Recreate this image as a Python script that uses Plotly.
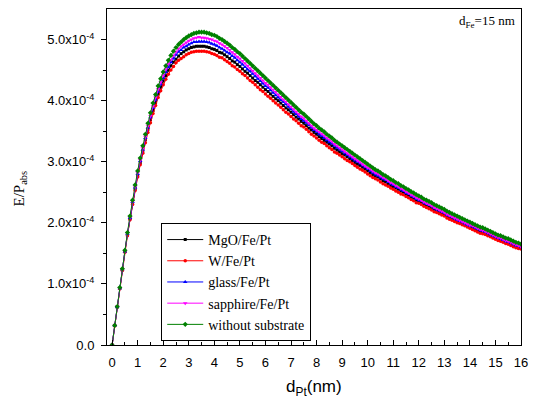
import numpy as np
import plotly.graph_objects as go

# thickness of Pt layer (nm)
d_pt = [round(0.1 * i, 1) for i in range(161)]

# E/Pabs values in units of 1e-4
without_substrate = [
0.00,0.32,0.63,0.94,1.25,1.55,1.84,2.11,2.37,2.62,
2.85,3.06,3.26,3.45,3.63,3.80,3.96,4.10,4.24,4.36,
4.47,4.57,4.66,4.74,4.81,4.87,4.92,4.96,5.00,5.03,
5.06,5.08,5.10,5.11,5.12,5.12,5.12,5.11,5.10,5.08,
5.07,5.05,5.02,5.00,4.97,4.94,4.91,4.87,4.84,4.80,
4.77,4.73,4.69,4.65,4.61,4.57,4.53,4.49,4.45,4.41,
4.37,4.33,4.29,4.25,4.21,4.17,4.13,4.09,4.05,4.01,
3.97,3.93,3.89,3.85,3.81,3.78,3.74,3.70,3.66,3.62,
3.59,3.55,3.52,3.49,3.45,3.42,3.39,3.35,3.32,3.29,
3.26,3.23,3.20,3.17,3.14,3.11,3.08,3.05,3.02,2.99,
2.96,2.93,2.90,2.87,2.85,2.82,2.79,2.77,2.74,2.71,
2.69,2.66,2.64,2.61,2.59,2.56,2.54,2.51,2.49,2.46,
2.44,2.42,2.39,2.37,2.35,2.33,2.30,2.28,2.26,2.24,
2.22,2.19,2.17,2.15,2.13,2.11,2.09,2.07,2.05,2.03,
2.01,1.99,1.97,1.95,1.93,1.92,1.90,1.88,1.86,1.84,
1.82,1.80,1.79,1.77,1.75,1.74,1.72,1.70,1.68,1.67,
1.65]

sapphire = [
0.00,0.32,0.63,0.93,1.24,1.54,1.83,2.09,2.35,2.59,
2.82,3.03,3.22,3.41,3.59,3.75,3.91,4.05,4.19,4.30,
4.41,4.51,4.60,4.67,4.74,4.80,4.85,4.89,4.92,4.95,
4.98,5.00,5.02,5.03,5.04,5.03,5.03,5.02,5.01,5.00,
4.98,4.97,4.94,4.92,4.89,4.86,4.83,4.79,4.76,4.72,
4.69,4.65,4.61,4.57,4.53,4.49,4.45,4.41,4.37,4.33,
4.29,4.26,4.22,4.18,4.14,4.10,4.06,4.02,3.98,3.94,
3.90,3.86,3.82,3.78,3.74,3.71,3.67,3.63,3.59,3.55,
3.52,3.49,3.46,3.43,3.39,3.36,3.33,3.29,3.26,3.23,
3.20,3.17,3.14,3.11,3.08,3.05,3.02,2.99,2.96,2.93,
2.90,2.88,2.85,2.82,2.80,2.77,2.74,2.72,2.69,2.66,
2.64,2.61,2.59,2.56,2.54,2.51,2.49,2.46,2.44,2.41,
2.39,2.37,2.34,2.32,2.30,2.28,2.25,2.23,2.21,2.19,
2.17,2.14,2.12,2.10,2.08,2.06,2.04,2.02,2.00,1.98,
1.96,1.95,1.93,1.91,1.89,1.88,1.86,1.84,1.82,1.80,
1.78,1.76,1.75,1.73,1.71,1.70,1.68,1.66,1.64,1.63,
1.61]

glass = [
0.00,0.32,0.62,0.93,1.24,1.53,1.82,2.08,2.34,2.58,
2.80,3.01,3.20,3.39,3.56,3.73,3.88,4.02,4.15,4.27,
4.37,4.47,4.55,4.63,4.69,4.75,4.80,4.83,4.87,4.89,
4.92,4.94,4.96,4.96,4.97,4.97,4.97,4.96,4.95,4.93,
4.92,4.90,4.87,4.85,4.82,4.79,4.77,4.73,4.70,4.66,
4.63,4.59,4.55,4.51,4.48,4.44,4.40,4.36,4.32,4.28,
4.24,4.21,4.17,4.13,4.09,4.05,4.01,3.98,3.94,3.90,
3.86,3.82,3.78,3.74,3.70,3.67,3.64,3.60,3.56,3.52,
3.49,3.45,3.42,3.39,3.35,3.32,3.30,3.26,3.23,3.20,
3.17,3.14,3.11,3.08,3.05,3.02,3.00,2.97,2.94,2.91,
2.88,2.85,2.82,2.79,2.77,2.74,2.72,2.70,2.67,2.64,
2.62,2.59,2.57,2.54,2.52,2.49,2.47,2.44,2.42,2.39,
2.37,2.36,2.33,2.31,2.29,2.27,2.24,2.22,2.20,2.18,
2.16,2.13,2.11,2.09,2.07,2.05,2.03,2.01,1.99,1.97,
1.95,1.94,1.92,1.90,1.88,1.87,1.85,1.83,1.81,1.79,
1.77,1.75,1.74,1.72,1.70,1.69,1.67,1.65,1.63,1.62,
1.60]

mgo = [
0.00,0.32,0.62,0.93,1.23,1.53,1.81,2.07,2.32,2.56,
2.78,2.98,3.17,3.36,3.53,3.69,3.84,3.97,4.11,4.22,
4.32,4.41,4.50,4.57,4.63,4.68,4.73,4.77,4.80,4.83,
4.85,4.87,4.88,4.89,4.89,4.89,4.89,4.88,4.87,4.85,
4.84,4.82,4.79,4.78,4.75,4.72,4.69,4.65,4.63,4.59,
4.56,4.52,4.48,4.45,4.41,4.37,4.33,4.30,4.26,4.22,
4.18,4.15,4.11,4.07,4.03,4.00,3.96,3.92,3.88,3.85,
3.81,3.77,3.73,3.70,3.66,3.63,3.59,3.55,3.52,3.48,
3.45,3.41,3.38,3.35,3.32,3.29,3.26,3.22,3.19,3.16,
3.13,3.11,3.08,3.05,3.02,2.99,2.96,2.94,2.91,2.88,
2.85,2.82,2.79,2.76,2.75,2.72,2.69,2.67,2.64,2.61,
2.59,2.57,2.55,2.52,2.50,2.47,2.45,2.42,2.40,2.37,
2.35,2.34,2.31,2.29,2.27,2.25,2.22,2.20,2.18,2.16,
2.14,2.12,2.10,2.08,2.06,2.04,2.02,2.00,1.98,1.96,
1.94,1.92,1.90,1.88,1.86,1.85,1.83,1.81,1.79,1.77,
1.75,1.74,1.73,1.71,1.69,1.68,1.66,1.64,1.62,1.61,
1.59]

w = [
0.00,0.31,0.62,0.92,1.22,1.52,1.79,2.05,2.30,2.53,
2.75,2.95,3.14,3.31,3.48,3.64,3.79,3.92,4.05,4.16,
4.26,4.35,4.43,4.50,4.56,4.62,4.66,4.69,4.72,4.75,
4.77,4.79,4.80,4.81,4.81,4.81,4.81,4.80,4.79,4.77,
4.76,4.74,4.71,4.70,4.67,4.64,4.61,4.57,4.55,4.51,
4.48,4.44,4.41,4.37,4.33,4.30,4.26,4.22,4.18,4.15,
4.11,4.07,4.04,4.00,3.96,3.93,3.89,3.85,3.81,3.78,
3.74,3.70,3.67,3.63,3.59,3.57,3.53,3.49,3.45,3.42,
3.39,3.35,3.32,3.30,3.26,3.23,3.20,3.16,3.14,3.11,
3.08,3.05,3.02,3.00,2.97,2.94,2.91,2.88,2.86,2.83,
2.80,2.77,2.74,2.72,2.70,2.67,2.64,2.62,2.60,2.57,
2.55,2.52,2.50,2.47,2.46,2.43,2.41,2.38,2.36,2.33,
2.32,2.30,2.27,2.25,2.23,2.21,2.18,2.17,2.15,2.13,
2.11,2.08,2.06,2.04,2.02,2.00,1.99,1.97,1.95,1.93,
1.91,1.89,1.87,1.85,1.83,1.82,1.81,1.79,1.77,1.75,
1.73,1.71,1.70,1.68,1.66,1.65,1.63,1.61,1.59,1.58,
1.57]

series_names = ["MgO/Fe/Pt", "W/Fe/Pt", "glass/Fe/Pt", "sapphire/Fe/Pt", "without substrate"]
series_values = [mgo, w, glass, sapphire, without_substrate]
series_colors = ["#000000", "#FF0000", "#0000FF", "#FF00FF", "#008000"]
series_symbols = ["square", "circle", "triangle-up", "triangle-down", "diamond"]
series_sizes = [3, 3.5, 4, 4, 4]

y_tick_vals = [0, 1e-4, 2e-4, 3e-4, 4e-4, 5e-4]
y_tick_text = ["0.0", "1.0x10<sup>-4</sup>", "2.0x10<sup>-4</sup>", "3.0x10<sup>-4</sup>",
               "4.0x10<sup>-4</sup>", "5.0x10<sup>-4</sup>"]
x_tick_vals = list(range(0, 17))

fig = go.Figure()
for name, vals, col, sym, sz in zip(series_names, series_values, series_colors, series_symbols, series_sizes):
    fig.add_trace(go.Scatter(
        x=d_pt, y=np.array(vals) * 1e-4, name=name, mode="lines+markers",
        line=dict(color=col, width=1),
        marker=dict(color=col, symbol=sym, size=sz, line=dict(width=0)),
    ))

fig.update_layout(
    width=536, height=401,
    margin=dict(l=107, r=10, t=8, b=56),
    paper_bgcolor="white", plot_bgcolor="white",
    font=dict(family="Liberation Sans, Arial, sans-serif", size=12, color="black"),
    showlegend=True,
    legend=dict(
        x=0.131, y=0.012, xanchor="left", yanchor="bottom",
        bgcolor="white", bordercolor="black", borderwidth=1,
        font=dict(family="Liberation Serif, Times New Roman, serif", size=14, color="black"),
        tracegroupgap=0, itemwidth=36,
    ),
    annotations=[
        dict(text="E/P<sub>abs</sub>", xref="paper", yref="paper", x=-0.21, y=0.466,
             xanchor="center", yanchor="middle", textangle=-90, showarrow=False,
             font=dict(family="Liberation Serif, Times New Roman, serif", size=15)),
        dict(text="d<sub>Pt</sub>(nm)", xref="paper", yref="paper", x=0.50, y=-0.09,
             xanchor="center", yanchor="top", showarrow=False,
             font=dict(family="Liberation Sans, Arial, sans-serif", size=17)),
        dict(text="d<sub>Fe</sub>=15 nm", xref="paper", yref="paper", x=0.99, y=0.995,
             xanchor="right", yanchor="top", showarrow=False,
             font=dict(family="Liberation Serif, Times New Roman, serif", size=13)),
    ],
)

fig.update_xaxes(
    range=[-0.2, 16], tickvals=x_tick_vals, ticks="inside", ticklen=5, tickwidth=1,
    tickcolor="black", showline=True, linecolor="black", linewidth=1, mirror=True,
    showgrid=False, zeroline=False, tickfont=dict(size=13), ticklabelstandoff=5,
    minor=dict(dtick=0.5, tick0=0, ticks="inside", ticklen=3, tickcolor="black", showgrid=False),
)
fig.update_yaxes(
    range=[0, 5.5e-4], tickvals=y_tick_vals, ticktext=y_tick_text, ticks="outside", ticklen=5,
    tickwidth=1, tickcolor="black", showline=True, linecolor="black", linewidth=1, mirror=True,
    showgrid=False, zeroline=False, tickfont=dict(size=13), ticklabelstandoff=4,
    minor=dict(tickvals=[0.5e-4, 1.5e-4, 2.5e-4, 3.5e-4, 4.5e-4], ticks="outside", ticklen=3,
               tickcolor="black", showgrid=False),
)

fig.write_html("out.html", config={"displayModeBar": False},
               post_script="document.body.style.margin='0';document.body.style.overflow='hidden';")
